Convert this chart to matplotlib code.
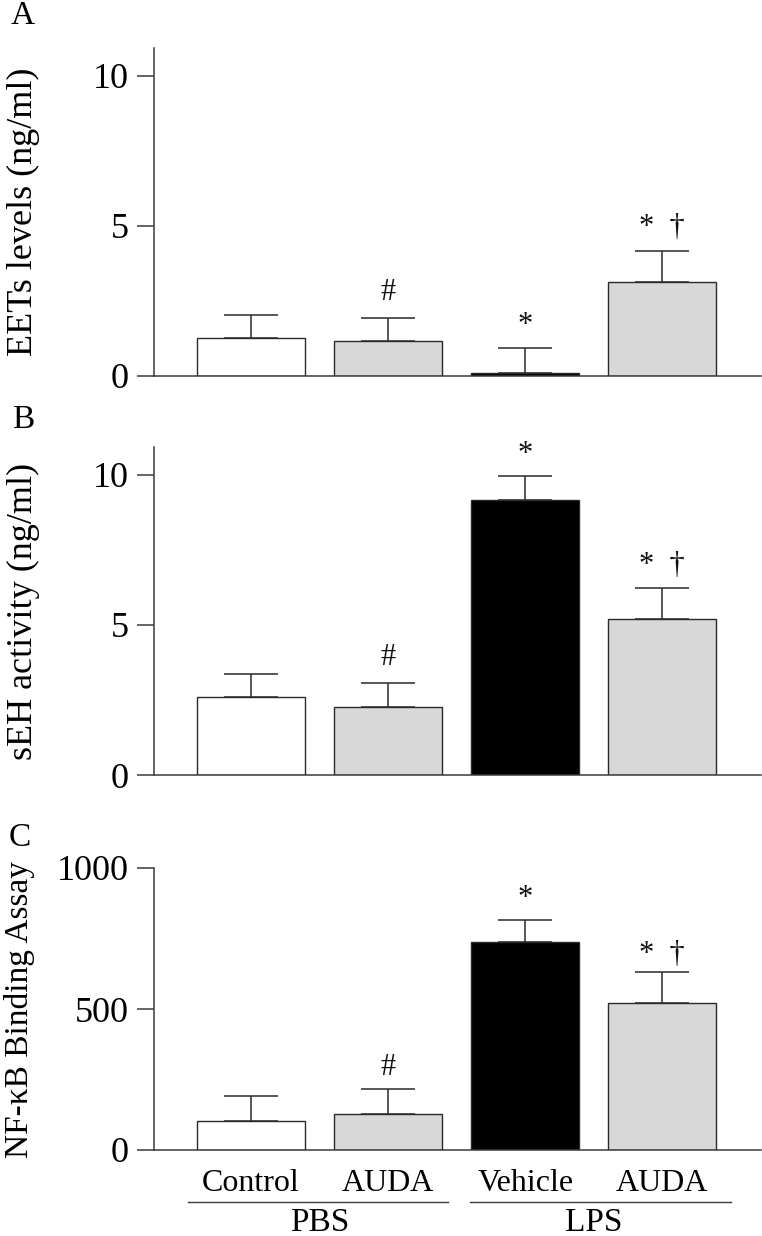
import numpy as np
import matplotlib.pyplot as plt
from matplotlib import transforms

plt.rcParams['font.family'] = ['Liberation Serif', 'DejaVu Serif']

# groups / categories
categories = ["Control", "AUDA", "Vehicle", "AUDA"]
groups = ["PBS", "LPS"]
group_centers = [0.5, 2.5]
group_spans = [(-0.46, 1.44), (1.60, 3.50)]
bar_colors = ["white", "#d8d8d8", "black", "#d8d8d8"]

# panel A: EETs levels (ng/ml)
eets_mean = [1.27, 1.17, 0.10, 3.13]
eets_sem = [0.77, 0.77, 0.83, 1.04]
eets_marks = ["", "#", "*", "*  †"]

# panel B: sEH activity (ng/ml)
seh_mean = [2.60, 2.27, 9.17, 5.20]
seh_sem = [0.77, 0.80, 0.80, 1.03]
seh_marks = ["", "#", "*", "*  †"]

# panel C: NF-kB binding assay
nfkb_mean = [103, 127, 736, 520]
nfkb_sem = [89, 88, 81, 110]
nfkb_marks = ["", "#", "*", "*  †"]

AX_COLOR = "#3a3a3a"

fig = plt.figure(figsize=(7.62, 12.36), dpi=100)
ax_left = 154 / 762
ax_w = 607 / 762


def panel(rect, means, sems, marks, ylim, yticks, ylabel, ylabel_size,
          letter, letter_xy, label_x, mark_offsets):
    ax = fig.add_axes(rect)
    x = np.arange(len(means))
    ax.bar(x, means, width=0.79, color=bar_colors, edgecolor="#2a2a2a",
           linewidth=1.0, zorder=2)
    ax.errorbar(x, means, yerr=[np.zeros(len(sems)), sems], fmt="none",
                ecolor="#2a2a2a", elinewidth=1.1, capsize=19.5,
                capthick=1.1, zorder=3)
    for xi, m, s, t, off in zip(x, means, sems, marks, mark_offsets):
        if t:
            ax.annotate(t, (xi, m + s), xytext=(0, off),
                        textcoords="offset points", ha="center",
                        va="center", fontsize=22, color="#111111")
    ax.set_xlim(-0.708, 3.72)
    ax.set_ylim(*ylim)
    ax.set_yticks(yticks)
    ax.set_yticklabels([str(v) for v in yticks], fontsize=26)
    ax.tick_params(axis="y", length=12.2, width=1.1, color=AX_COLOR,
                   pad=6, direction="out")
    for sp in ["top", "right"]:
        ax.spines[sp].set_visible(False)
    for sp in ["left", "bottom"]:
        ax.spines[sp].set_color(AX_COLOR)
        ax.spines[sp].set_linewidth(1.1)
    ax.set_ylabel(ylabel, fontsize=ylabel_size, va="center")
    ax.yaxis.set_label_coords(label_x, 0.5)
    fig.text(letter_xy[0], letter_xy[1], letter, fontsize=24,
             ha="center", va="center")
    return ax


axA = panel([ax_left, 1 - 376 / 1236, ax_w, (376 - 48) / 1236],
            eets_mean, eets_sem, eets_marks, (0, 10.93), [0, 5, 10],
            "EETs levels (ng/ml)", 26, "A", (23 / 762, 1 - 16 / 1236), -0.215,
            [0, 18, 16, 17])
axA.set_xticks([])

axB = panel([ax_left, 1 - 775 / 1236, ax_w, (775 - 447) / 1236],
            seh_mean, seh_sem, seh_marks, (0, 10.93), [0, 5, 10],
            "sEH activity (ng/ml)", 26, "B", (23 / 762, 1 - 420 / 1236), -0.215,
            [0, 18, 15, 16])
axB.set_xticks([])

axC = panel([ax_left, 1 - 1150 / 1236, ax_w, (1150 - 868) / 1236],
            nfkb_mean, nfkb_sem, nfkb_marks, (0, 1000), [0, 500, 1000],
            "NF-κB Binding Assay", 24, "C", (20 / 762, 1 - 838 / 1236), -0.222,
            [0, 16, 15, 13])
axC.set_xticks(np.arange(len(categories)))
axC.set_xticklabels(categories, fontsize=23)
axC.tick_params(axis="x", length=0, pad=14)

trans = transforms.blended_transform_factory(axC.transData, axC.transAxes)
for (x0, x1), gx, g in zip(group_spans, group_centers, groups):
    axC.plot([x0, x1], [-0.184, -0.184], transform=trans, color=AX_COLOR,
             lw=1.0, clip_on=False)
    axC.text(gx, -0.258, g, transform=trans, ha="center", va="center",
             fontsize=24)

fig.savefig("out.png", dpi=100)
